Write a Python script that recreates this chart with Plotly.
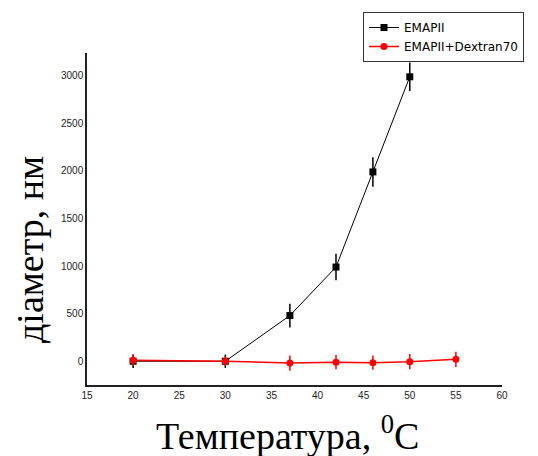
import plotly.graph_objects as go

temp_black = [20, 30, 37, 42, 46, 50]
diam_black = [0, 0, 480, 990, 1990, 2990]
err_black = [70, 70, 125, 140, 155, 150]

temp_red = [20, 30, 37, 42, 46, 50, 55]
diam_red = [10, 0, -20, -10, -15, -5, 20]
err_red = [60, 50, 80, 75, 75, 80, 80]

# page body has an 8px default margin; compensate so the plot lands where the reference has it
OFF = 8

fig = go.Figure()
fig.add_trace(go.Scatter(
    x=temp_black, y=diam_black, name="EMAPII", mode="lines+markers",
    line=dict(color="black", width=1),
    marker=dict(symbol="square", size=7, color="black"),
    error_y=dict(type="data", array=err_black, color="black", thickness=1.5, width=0),
))
fig.add_trace(go.Scatter(
    x=temp_red, y=diam_red, name="EMAPII+Dextran70", mode="lines+markers",
    line=dict(color="red", width=1.5),
    marker=dict(symbol="circle", size=7, color="red"),
    error_y=dict(type="data", array=err_red, color="red", thickness=1.5, width=0),
))

fig.update_layout(
    width=538, height=456,
    margin=dict(l=87 - OFF, r=36 + OFF, t=53 - OFF, b=71 + OFF, autoexpand=False),
    plot_bgcolor="white", paper_bgcolor="white",
    font=dict(family="Liberation Sans, Arial", size=10, color="#222"),
    showlegend=True,
    legend=dict(
        xref="container", yref="container",
        x=(363 - OFF)/538, xanchor="left", y=1 - (12 - OFF)/456, yanchor="top",
        bordercolor="#333", borderwidth=1, bgcolor="white",
        font=dict(size=12, family="DejaVu Sans", color="black"),
        tracegroupgap=0, itemwidth=30,
    ),
    xaxis=dict(
        range=[15, 60], tickvals=[15, 20, 25, 30, 35, 40, 45, 50, 55, 60],
        showline=True, linecolor="#222", linewidth=1.5, showgrid=False,
        zeroline=False, ticks="", tickfont=dict(size=10),
    ),
    yaxis=dict(
        range=[-250, 3240], tickvals=[0, 500, 1000, 1500, 2000, 2500, 3000],
        showline=True, linecolor="#222", linewidth=1.5, showgrid=False,
        zeroline=False, ticks="", tickfont=dict(size=10),
    ),
    annotations=[
        dict(text="Температура, <sup>0</sup>C", xref="paper", yref="paper",
             x=(287-87)/415, y=-(433-385)/332, xanchor="center", yanchor="middle",
             showarrow=False, font=dict(family="Liberation Serif, Times New Roman", size=38, color="black")),
        dict(text="діаметр, нм", xref="paper", yref="paper", textangle=-90,
             x=(30-87)/415, y=(385-250)/332, xanchor="center", yanchor="middle",
             showarrow=False, font=dict(family="Liberation Serif, Times New Roman", size=38, color="black")),
    ],
)

fig.write_html("out.html")
